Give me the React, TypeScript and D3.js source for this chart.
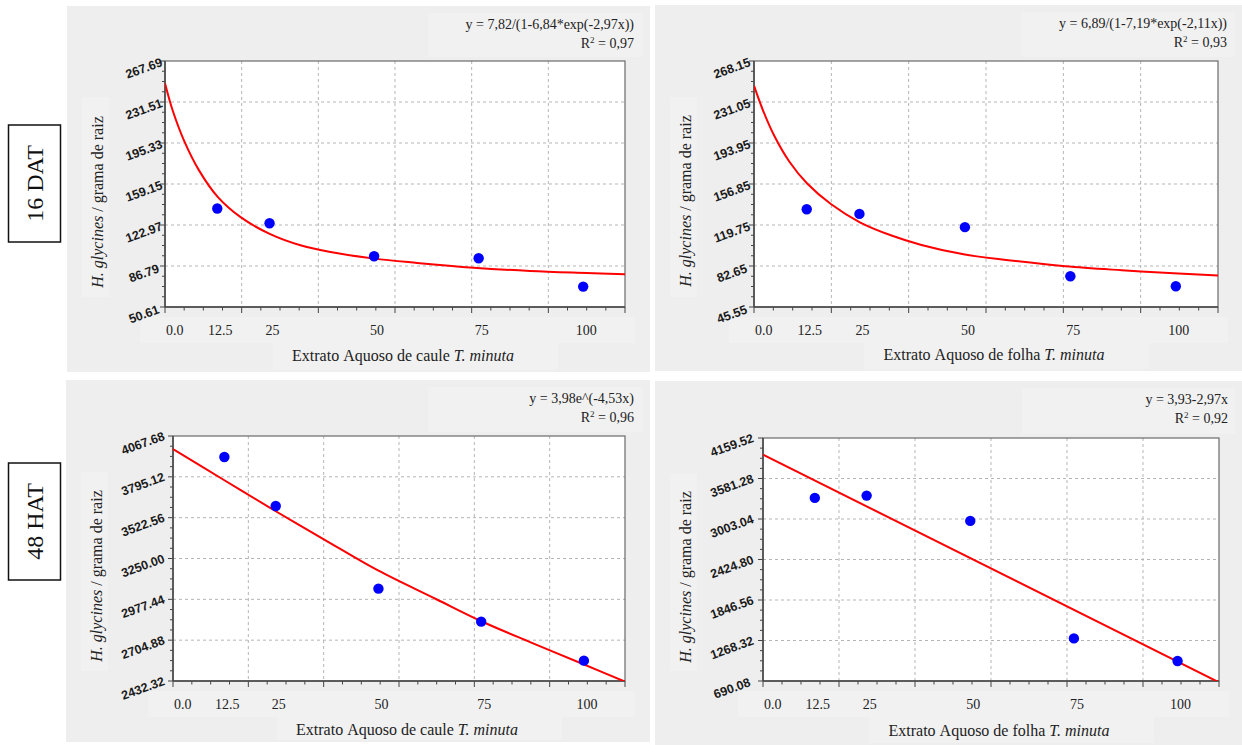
import React from "react";
import * as d3 from "d3";

// doses do extrato (eixo x)
const concentrations = [12.5, 25, 50, 75, 100];
const xTickValues = [0, 12.5, 25, 50, 75, 100];
const xTickLabels = ["0.0", "12.5", "25", "50", "75", "100"];
const xMax = 110;

// 16 DAT - caule
const caule16Y = [137.5, 124.5, 95.4, 93.6, 68.6];
const caule16FitX = [0, 1.8, 4.5, 8.1, 12.6, 18.0, 24.9, 32.4, 39.6, 50.0, 60.3, 73.8, 87.3, 100.8, 110];
const caule16FitY = [248.0, 224.4, 197.9, 171.4, 147.8, 130.1, 115.4, 105.1, 99.2, 93.3, 89.5, 85.3, 82.4, 80.6, 79.5];
const caule16Ticks = [50.61, 86.79, 122.97, 159.15, 195.33, 231.51, 267.69];

// 16 DAT - folha
const folha16Y = [134.0, 129.8, 117.8, 73.4, 64.3];
const folha16FitX = [0, 2.1, 4.8, 8.4, 12.6, 18.3, 25.1, 32.6, 39.7, 50.0, 60.3, 73.8, 87.2, 100.6, 110];
const folha16FitY = [245.8, 223.8, 200.5, 177.0, 157.3, 138.5, 122.2, 110.2, 101.7, 93.0, 87.9, 82.4, 78.8, 75.8, 74.0];
const folha16Ticks = [45.55, 82.65, 119.75, 156.85, 193.95, 231.05, 268.15];

// 48 HAT - caule
const caule48Y = [3927.5, 3600.4, 3048.7, 2828.4, 2568.0];
const caule48FitX = [0, 12.4, 24.9, 36.6, 49.9, 64.1, 74.9, 86.9, 99.75, 110];
const caule48FitY = [3980.9, 3774.0, 3567.1, 3380.0, 3170.0, 2978.0, 2832.8, 2692.0, 2546.0, 2428.0];
const caule48Ticks = [2432.32, 2704.88, 2977.44, 3250.0, 3522.56, 3795.12, 4067.68];

// 48 HAT - folha
const folha48Y = [3304.0, 3337.3, 2976.1, 1298.4, 975.2];
const folha48FitX = [0, 110];
const folha48FitY = [3921.9, 671.0];
const folha48Ticks = [690.08, 1268.32, 1846.56, 2424.8, 3003.04, 3581.28, 4159.52];

const serif = "Liberation Serif, serif";
const sans = "Liberation Sans, sans-serif";

const panels = [
  {
    id: "p1", box: [67, 650, 6, 372], plot: [165, 625, 61, 307],
    ys: caule16Y, fitX: caule16FitX, fitY: caule16FitY, ticks: caule16Ticks,
    eq: "y = 7,82/(1-6,84*exp(-2,97x))", r2: "0,97", part: "caule",
  },
  {
    id: "p2", box: [655, 1242, 5, 371], plot: [754, 1218, 61, 307],
    ys: folha16Y, fitX: folha16FitX, fitY: folha16FitY, ticks: folha16Ticks,
    eq: "y = 6,89/(1-7,19*exp(-2,11x))", r2: "0,93", part: "folha",
  },
  {
    id: "p3", box: [66, 650, 380, 742], plot: [173, 625, 436, 681],
    ys: caule48Y, fitX: caule48FitX, fitY: caule48FitY, ticks: caule48Ticks,
    eq: "y = 3,98e^(-4,53x)", r2: "0,96", part: "caule",
  },
  {
    id: "p4", box: [655, 1242, 381, 745], plot: [763, 1219, 438, 681],
    ys: folha48Y, fitX: folha48FitX, fitY: folha48FitY, ticks: folha48Ticks,
    eq: "y = 3,93-2,97x", r2: "0,92", part: "folha",
  },
];

function Panel({ cfg }: { cfg: any }) {
  const [bx0, bx1, by0, by1] = cfg.box;
  const [l, r, t, b] = cfg.plot;
  const x = d3.scaleLinear().domain([0, xMax]).range([l, r]);
  const yMin = cfg.ticks[0];
  const yMax = cfg.ticks[cfg.ticks.length - 1];
  const y = d3.scaleLinear().domain([yMin, yMax]).range([b, t]);

  const xMinor = d3.range(25).map((i) => (i * xMax) / 24);
  const yMinor = d3.range(25).map((i) => yMin + (i * (yMax - yMin)) / 24);
  const fit = d3.zip(cfg.fitX, cfg.fitY) as [number, number][];
  const line = d3
    .line<[number, number]>()
    .x((d) => x(d[0]))
    .y((d) => y(d[1]))
    .curve(d3.curveCatmullRom.alpha(0.5));
  const cx = (l + r) / 2 + 8;

  return (
    <g>
      <rect x={bx0} y={by0} width={bx1 - bx0} height={by1 - by0} fill="#eeeeee" />
      {/* faixas mais claras dos recortes */}
      <rect x={r - 197} y={by0 + 7} width={bx1 - 7 - (r - 197)} height={t - 4 - by0 - 7} fill="#f1f1f1" />
      <rect x={bx0 + 15} y={t + 36} width={27} height={b - t - 46} fill="#f1f1f1" />
      <rect x={l - 25} y={b + 10} width={r - l + 35} height={26} fill="#f1f1f1" />
      <rect x={cx - 130} y={b + 36} width={285} height={by1 - b - 38} fill="#f1f1f1" />

      <clipPath id={`clip-${cfg.id}`}>
        <rect x={l} y={t} width={r - l} height={b - t} />
      </clipPath>
      <rect x={l} y={t} width={r - l} height={b - t} fill="#ffffff" />

      {/* grade */}
      {xMinor.filter((_, i) => i % 4 === 0 && i > 0 && i < 24).map((v, i) => (
        <line key={`gx${i}`} x1={x(v)} x2={x(v)} y1={t} y2={b} stroke="#b5b5b5" strokeDasharray="3,3" strokeWidth={1} />
      ))}
      {cfg.ticks.slice(1, -1).map((v: number, i: number) => (
        <line key={`gy${i}`} x1={l} x2={r} y1={y(v)} y2={y(v)} stroke="#b5b5b5" strokeDasharray="3,3" strokeWidth={1} />
      ))}

      {/* ticks */}
      {xMinor.map((v, i) => (
        <line key={`tx${i}`} x1={x(v)} x2={x(v)} y1={b} y2={b + (i % 4 === 0 ? 6 : 3.5)} stroke="#444" strokeWidth={1} />
      ))}
      {yMinor.map((v, i) => (
        <line key={`ty${i}`} x1={l} x2={l - (i % 4 === 0 ? 5 : 3)} y1={y(v)} y2={y(v)} stroke="#444" strokeWidth={1} />
      ))}

      <rect x={l} y={t} width={r - l} height={b - t} fill="none" stroke="#6a6a6a" strokeWidth={1.2} />
      <line x1={l} x2={l} y1={t} y2={b} stroke="#444" strokeWidth={1.5} />
      <line x1={l} x2={r} y1={b} y2={b} stroke="#444" strokeWidth={1.5} />

      {/* curva ajustada e pontos */}
      <g clipPath={`url(#clip-${cfg.id})`}>
        <path d={line(fit) || ""} fill="none" stroke="#ff0000" strokeWidth={2} />
      </g>
      {concentrations.map((c, i) => (
        <circle key={`pt${i}`} cx={x(c)} cy={y(cfg.ys[i])} r={5.2} fill="#0000ff" />
      ))}

      {/* rotulos y */}
      {cfg.ticks.map((v: number, i: number) => (
        <text
          key={`ly${i}`}
          transform={`translate(${bx0 + 77},${y(v) + 7.5}) rotate(-20)`}
          textAnchor="middle"
          dominantBaseline="central"
          fontFamily={sans}
          fontWeight="bold"
          fontSize={12.5}
          fill="#1a1a1a"
        >
          {v.toFixed(2)}
        </text>
      ))}

      {/* rotulos x */}
      {xTickValues.map((v, i) => (
        <text
          key={`lx${i}`}
          x={i === 0 ? x(v) + 1 : x(v) + 3}
          y={b + 28}
          textAnchor={i === 0 ? "start" : "middle"}
          fontFamily={serif}
          fontSize={14}
          fill="#222"
        >
          {xTickLabels[i]}
        </text>
      ))}

      <text x={cx} y={by0 + 355} textAnchor="middle" fontFamily={serif} fontSize={16} fill="#222">
        Extrato<tspan dx={4}>Aquoso de {cfg.part} </tspan>
        <tspan fontStyle="italic">T. minuta</tspan>
      </text>

      <text
        transform={`translate(${bx0 + 30},${by0 + 196}) rotate(-90)`}
        textAnchor="middle"
        dominantBaseline="central"
        fontFamily={serif}
        fontSize={16}
        fill="#222"
      >
        <tspan fontStyle="italic">H. glycines</tspan> / grama de raiz
      </text>

      <text x={r + 9} y={by0 + 23} textAnchor="end" fontFamily={serif} fontSize={14} fill="#222">
        {cfg.eq}
      </text>
      <text x={r + 9} y={by0 + 42} textAnchor="end" fontFamily={serif} fontSize={14} fill="#222">
        R<tspan dy={-5} fontSize={9}>2</tspan>
        <tspan dy={5}> = {cfg.r2}</tspan>
      </text>
    </g>
  );
}

export default function App() {
  return (
    <div style={{ position: "absolute", left: 0, top: 0 }}>
      <svg width={1242} height={745} style={{ display: "block", background: "#ffffff" }}>
        {panels.map((p) => (
          <Panel key={p.id} cfg={p} />
        ))}
        <rect x={8.5} y={125} width={52} height={117} fill="#fff" stroke="#111" strokeWidth={1.5} />
        <text transform="translate(35,183.5) rotate(-90)" textAnchor="middle" dominantBaseline="central" fontFamily={serif} fontSize={24} fill="#111">
          16 DAT
        </text>
        <rect x={8.5} y={463} width={52} height={117} fill="#fff" stroke="#111" strokeWidth={1.5} />
        <text transform="translate(35,521.5) rotate(-90)" textAnchor="middle" dominantBaseline="central" fontFamily={serif} fontSize={24} fill="#111">
          48 HAT
        </text>
      </svg>
    </div>
  );
}
